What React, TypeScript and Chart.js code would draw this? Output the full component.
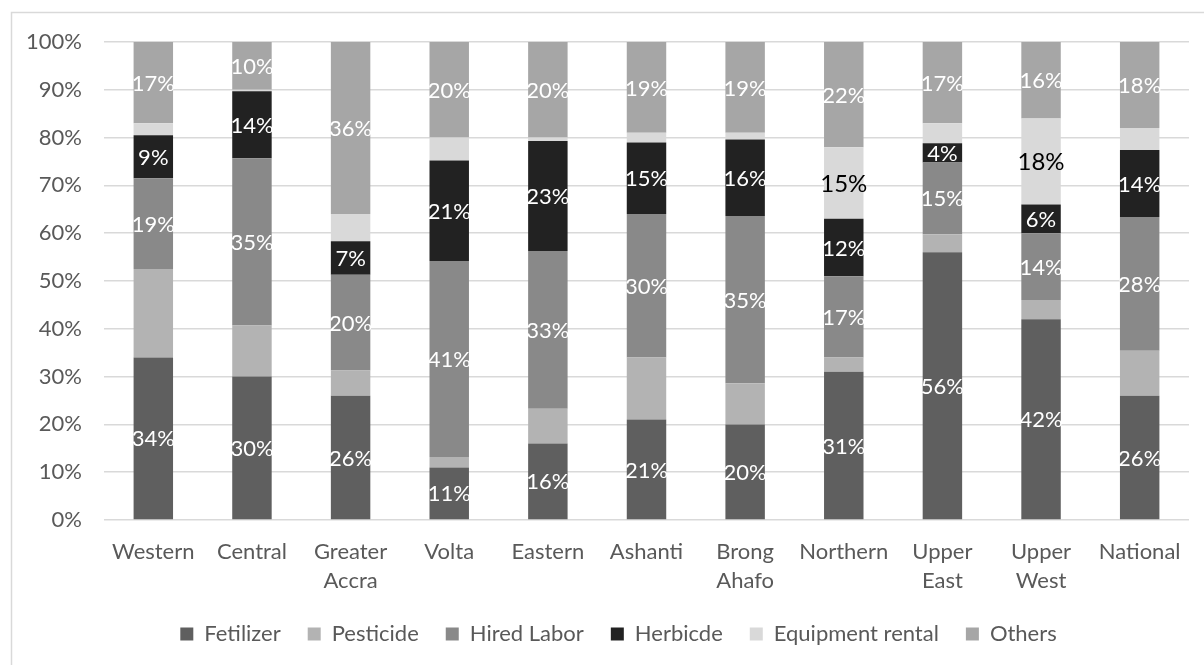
import React, { useEffect, useRef } from "react";
import { Chart, registerables } from "chart.js";

Chart.register(...registerables);

// Regions (multi-line labels are split into lines)
const regions: string[][] = [
  ["Western"],
  ["Central"],
  ["Greater", "Accra"],
  ["Volta"],
  ["Eastern"],
  ["Ashanti"],
  ["Brong", "Ahafo"],
  ["Northern"],
  ["Upper", "East"],
  ["Upper", "West"],
  ["National"],
];

// Share of production cost by input, in percent
const fetilizer = [34, 30, 26, 11, 16, 21, 20, 31, 56, 42, 26];
const pesticide = [18.5, 10.7, 5.3, 2.2, 7.3, 13, 8.6, 3, 3.8, 4, 9.4];
const hiredLabor = [19, 35, 20, 41, 33, 30, 35, 17, 15, 14, 28];
const herbicide = [9, 14, 7, 21, 23, 15, 16, 12, 4, 6, 14];
const equipmentRental = [2.5, 0.3, 5.7, 4.8, 0.7, 2, 1.4, 15, 4.2, 18, 4.6];
const others = [17, 10, 36, 20, 20, 19, 19, 22, 17, 16, 18];

const yTicks = [0, 10, 20, 30, 40, 50, 60, 70, 80, 90, 100];

const FONT = "Lato, 'Open Sans', sans-serif";
const TEXT = "#595959";
const GRID = "#d9d9d9";
const SIZE = 22;

type SeriesDef = {
  label: string;
  data: number[];
  color: string;
  labelColor: string;
  labelSize: number;
  minLabel: number; // smallest value that gets a value label
};

const series: SeriesDef[] = [
  { label: "Fetilizer", data: fetilizer, color: "#5f5f5f", labelColor: "#ffffff", labelSize: SIZE, minLabel: 0 },
  { label: "Pesticide", data: pesticide, color: "#b3b3b3", labelColor: "#ffffff", labelSize: SIZE, minLabel: Infinity },
  { label: "Hired Labor", data: hiredLabor, color: "#898989", labelColor: "#ffffff", labelSize: SIZE, minLabel: 0 },
  { label: "Herbicde", data: herbicide, color: "#222222", labelColor: "#ffffff", labelSize: SIZE, minLabel: 0 },
  { label: "Equipment rental", data: equipmentRental, color: "#d9d9d9", labelColor: "#000000", labelSize: 24, minLabel: 10 },
  { label: "Others", data: others, color: "#a6a6a6", labelColor: "#ffffff", labelSize: SIZE, minLabel: 0 },
];

// Light frame around the whole chart
const framePlugin = {
  id: "frame",
  beforeDraw(chart: any) {
    const { ctx, width, height } = chart;
    ctx.save();
    ctx.fillStyle = "#ffffff";
    ctx.fillRect(0, 0, width, height);
    ctx.strokeStyle = GRID;
    ctx.lineWidth = 1.5;
    ctx.strokeRect(11.5, 12.5, width + 50, height + 50);
    ctx.restore();
  },
};

// Centre the legend row under the whole frame rather than the canvas
const legendShiftPlugin = {
  id: "legendShift",
  afterLayout(chart: any) {
    const lg = chart.legend;
    if (!lg) return;
    const shift = 24;
    lg.left += shift;
    lg.right += shift;
    (lg.legendHitBoxes || []).forEach((b: any) => (b.left += shift));
  },
};

// Percent labels centred inside each stacked segment
const valueLabelPlugin = {
  id: "valueLabels",
  afterDatasetsDraw(chart: any) {
    const { ctx } = chart;
    ctx.save();
    ctx.textAlign = "center";
    ctx.textBaseline = "middle";
    chart.data.datasets.forEach((ds: any, di: number) => {
      const def = series[di];
      const meta = chart.getDatasetMeta(di);
      meta.data.forEach((el: any, i: number) => {
        const v = ds.data[i] as number;
        if (v < def.minLabel) return;
        const { x, y, base } = el.getProps(["x", "y", "base"], true);
        ctx.fillStyle = def.labelColor;
        ctx.font = `${def.labelSize}px ${FONT}`;
        ctx.fillText(`${Math.round(v)}%`, x, (y + base) / 2 + 1);
      });
    });
    ctx.restore();
  },
};

export default function App() {
  const ref = useRef<HTMLCanvasElement | null>(null);

  useEffect(() => {
    if (!ref.current) return;
    const chart = new Chart(ref.current, {
      type: "bar",
      data: {
        labels: regions,
        datasets: series.map((s) => ({
          label: s.label,
          data: s.data,
          backgroundColor: s.color,
          borderWidth: 0,
          barPercentage: 0.4,
          categoryPercentage: 1,
        })),
      },
      options: {
        responsive: false,
        animation: false,
        devicePixelRatio: 1,
        layout: { padding: { left: 0, right: 15, top: 42, bottom: 10 } },
        plugins: {
          tooltip: { enabled: false },
          legend: {
            position: "bottom",
            labels: {
              boxWidth: 13,
              boxHeight: 13,
              padding: 27,
              color: TEXT,
              font: { family: FONT, size: SIZE },
            },
          },
        },
        scales: {
          x: {
            stacked: true,
            grid: { display: false, drawTicks: false },
            border: { display: false },
            ticks: {
              color: TEXT,
              font: { family: FONT, size: SIZE, lineHeight: 1.3 },
              padding: 18,
              autoSkip: false,
              maxRotation: 0,
            },
            afterFit: (scale: any) => {
              scale.height = 76;
            },
          },
          y: {
            stacked: true,
            min: 0,
            max: 100,
            afterBuildTicks: (scale: any) => {
              scale.ticks = yTicks.map((v) => ({ value: v }));
            },
            grid: { color: GRID, lineWidth: 1.5, drawTicks: false },
            border: { display: false },
            ticks: {
              color: TEXT,
              font: { family: FONT, size: SIZE },
              padding: 22,
              callback: (v: any) => `${v}%`,
            },
            afterFit: (scale: any) => {
              scale.width = 104;
            },
          },
        },
      },
      plugins: [framePlugin, legendShiftPlugin, valueLabelPlugin],
    });
    return () => chart.destroy();
  }, []);

  return (
    <div style={{ position: "fixed", left: 0, top: 0, width: 1204, height: 665, background: "#fff" }}>
      <canvas ref={ref} width={1204} height={665} />
    </div>
  );
}
